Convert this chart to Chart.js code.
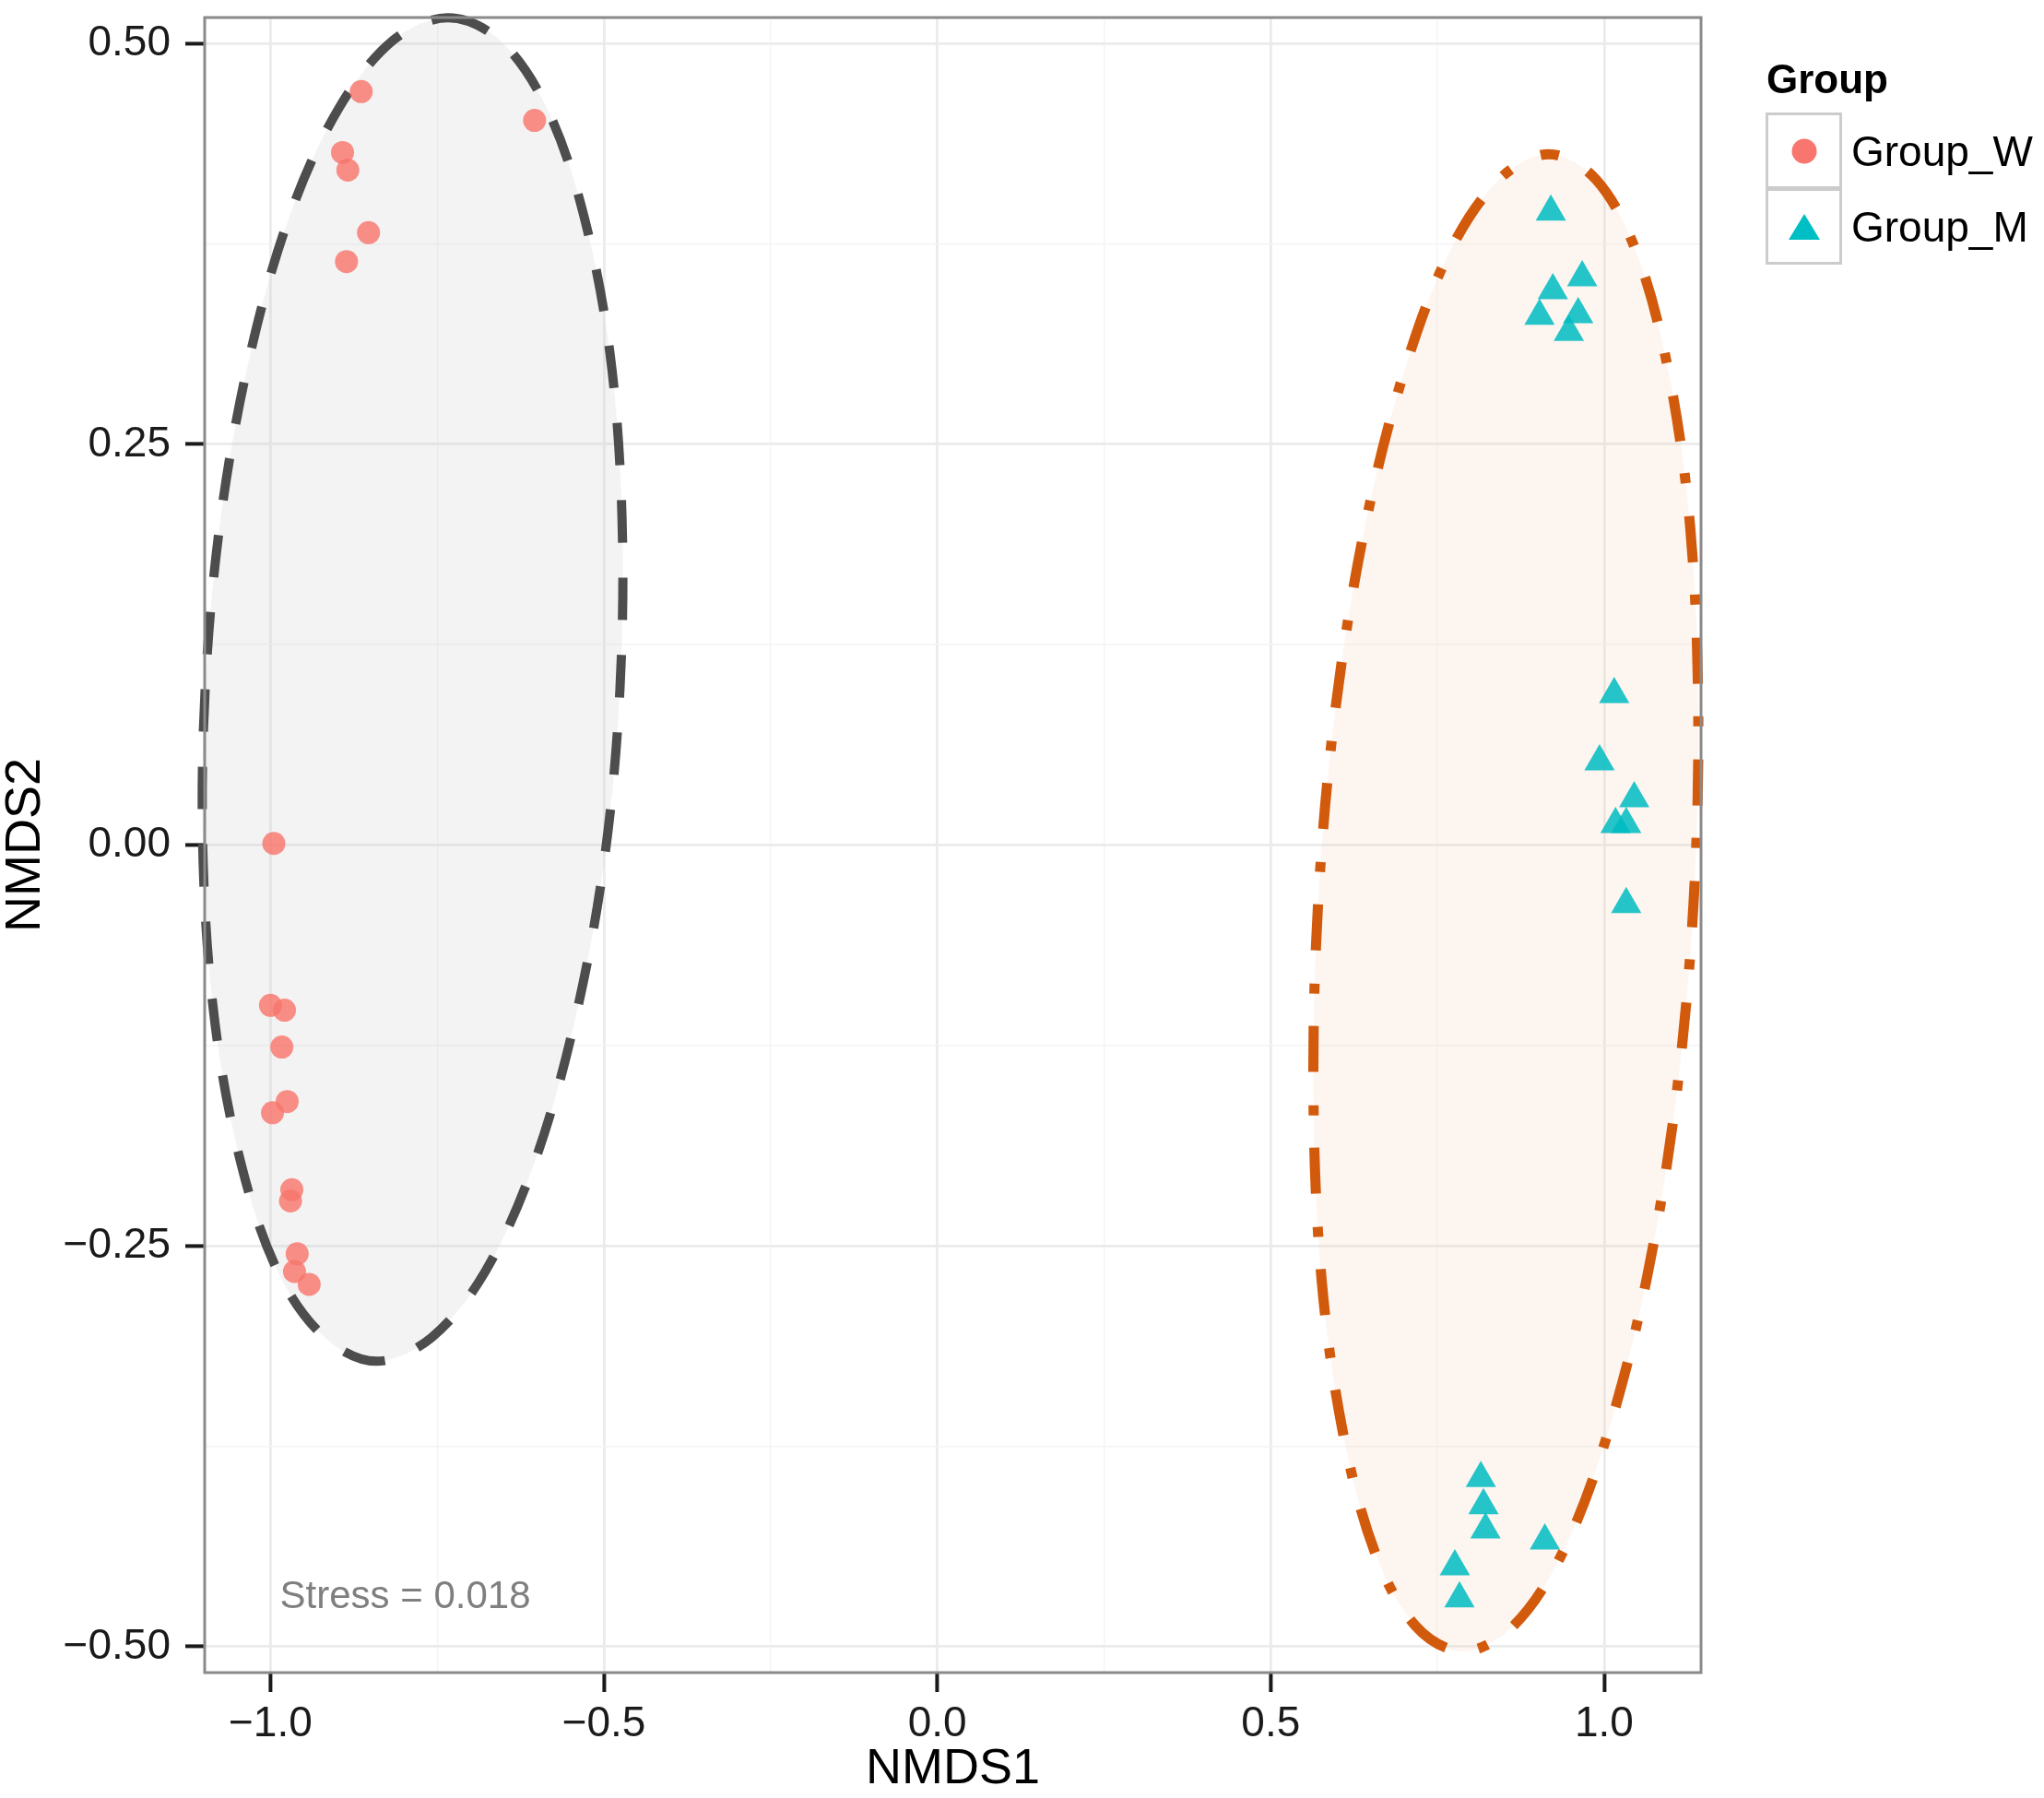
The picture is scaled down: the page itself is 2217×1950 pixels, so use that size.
<!DOCTYPE html>
<html>
<head>
<meta charset="utf-8">
<title>NMDS</title>
<script src="https://cdn.jsdelivr.net/npm/chart.js@4.4.1/dist/chart.umd.min.js"></script>
<style>
  html, body { margin: 0; padding: 0; background: #fff; }
  #wrap { position: relative; width: 2217px; height: 1950px; overflow: hidden; }
  #nmds { position: absolute; left: 0; top: 0; }
  .lg { position: absolute; font-family: "Liberation Sans", Arial, sans-serif; color: #000; line-height: 1; white-space: nowrap; }
  .lg-title { left: 1916px; top: 64px; font-size: 44px; font-weight: bold; }
  .lg-key { left: 1915px; width: 83px; height: 83px; box-sizing: border-box; border: 3px solid #cccccc;
            display: flex; align-items: center; justify-content: center; background: #fff; }
  .lg-text { left: 2008px; height: 83px; font-size: 46px; display: flex; align-items: center; }
</style>
</head>
<body>
<div id="wrap">
  <canvas id="nmds" width="2217" height="1950"></canvas>
  <div class="lg lg-title">Group</div>
  <div class="lg lg-key" style="top:122px"><svg width="30" height="30"><circle cx="15" cy="15" r="13.5" fill="#F8766D"/></svg></div>
  <div class="lg lg-key" style="top:204px"><svg width="36" height="32"><polygon points="18,2 35,30 1,30" fill="#00BFC4"/></svg></div>
  <div class="lg lg-text" style="top:122px">Group_W</div>
  <div class="lg lg-text" style="top:204px">Group_M</div>
</div>
<script>
// NMDS ordination, two groups with their ellipses

// Group_W samples
const wX = [-0.864, -0.604, -0.892, -0.884, -0.853, -0.886, -0.995, -1.000, -0.979, -0.983, -0.975, -0.997, -0.968, -0.970, -0.960, -0.964, -0.942];
const wY = [0.470, 0.452, 0.432, 0.421, 0.382, 0.364, 0.001, -0.100, -0.103, -0.126, -0.160, -0.167, -0.215, -0.222, -0.255, -0.266, -0.274];

// Group_M samples
const mX = [0.920, 0.967, 0.923, 0.903, 0.961, 0.947, 1.015, 0.993, 1.045, 1.017, 1.033, 1.033, 0.815, 0.819, 0.822, 0.911, 0.776, 0.783];
const mY = [0.395, 0.354, 0.346, 0.330, 0.331, 0.320, 0.094, 0.052, 0.029, 0.013, 0.013, -0.037, -0.395, -0.412, -0.427, -0.434, -0.450, -0.470];

// ellipse outlines
const wEllX = [-0.734, -0.656, -0.586, -0.531, -0.491, -0.473, -0.476, -0.500, -0.545, -0.605, -0.678, -0.758, -0.841, -0.919, -0.989, -1.044, -1.083, -1.101, -1.098, -1.074, -1.030, -0.970, -0.897, -0.816];
const wEllY = [0.516, 0.502, 0.460, 0.394, 0.307, 0.206, 0.097, -0.011, -0.112, -0.199, -0.266, -0.307, -0.322, -0.307, -0.266, -0.199, -0.112, -0.011, 0.097, 0.206, 0.307, 0.394, 0.460, 0.502];
const mEllX = [0.917, 0.988, 1.049, 1.097, 1.129, 1.141, 1.134, 1.108, 1.064, 1.006, 0.938, 0.864, 0.788, 0.717, 0.656, 0.608, 0.576, 0.564, 0.571, 0.597, 0.641, 0.699, 0.767, 0.842];
const mEllY = [0.431, 0.415, 0.369, 0.294, 0.198, 0.085, -0.036, -0.157, -0.270, -0.366, -0.441, -0.487, -0.503, -0.487, -0.441, -0.366, -0.270, -0.157, -0.036, 0.085, 0.198, 0.294, 0.369, 0.415];

// axes
const xMajor = [-1, -0.5, 0, 0.5, 1];
const xMinor = [-0.75, -0.25, 0.25, 0.75];
const xTickLabels = ['\u22121.0', '\u22120.5', '0.0', '0.5', '1.0'];
const yMajor = [-0.5, -0.25, 0, 0.25, 0.5];
const yMinor = [-0.375, -0.125, 0.125, 0.375];
const yTickLabels = ['\u22120.50', '\u22120.25', '0.00', '0.25', '0.50'];
const xRange = [-1.0987, 1.1452];
const yRange = [-0.5162, 0.5162];

const stressText = 'Stress = 0.018';
const stressPos = [-0.798, -0.469];

const FONT = '"Liberation Sans", Arial, sans-serif';

function toPoints(xs, ys) {
    return xs.map((x, i) => ({ x: x, y: ys[i] }));
}

function sorted(a, b) {
    return a.concat(b).sort((p, q) => p - q);
}

// close the ellipse outlines so the spline runs smoothly round
const loopPlugin = {
    id: 'loopEllipse',
    afterDatasetUpdate(chart, args) {
        const ds = chart.data.datasets[args.index];
        const line = args.meta.dataset;
        if (ds.isEllipse && line) {
            line._loop = true;
            line._fullLoop = true;
            delete line._segments;
            delete line._path;
            line._pointsUpdated = false;
        }
    }
};

// translucent fill inside each ellipse
const ellipseFill = {
    id: 'ellipseFill',
    beforeDatasetsDraw(chart) {
        const ctx = chart.ctx;
        chart.data.datasets.forEach((ds, i) => {
            if (!ds.isEllipse) return;
            const line = chart.getDatasetMeta(i).dataset;
            line.updateControlPoints(chart.chartArea, 'x');
            ctx.save();
            ctx.beginPath();
            line.path(ctx);
            ctx.closePath();
            ctx.fillStyle = ds.areaColor;
            ctx.fill();
            ctx.restore();
        });
    }
};

// panel border and the stress note
const panelDecor = {
    id: 'panelDecor',
    afterDatasetsDraw(chart) {
        const { ctx, chartArea: a, scales } = chart;
        ctx.save();
        ctx.font = '42px ' + FONT;
        ctx.fillStyle = '#7f7f7f';
        ctx.textAlign = 'center';
        ctx.textBaseline = 'middle';
        ctx.fillText(stressText, scales.x.getPixelForValue(stressPos[0]), scales.y.getPixelForValue(stressPos[1]));
        ctx.strokeStyle = '#8a8a8a';
        ctx.lineWidth = 3;
        ctx.strokeRect(a.left, a.top, a.right - a.left, a.bottom - a.top);
        ctx.restore();
    }
};

function gridColor(major) {
    return ctx => major.includes(ctx.tick.value) ? '#ebebeb' : '#f4f4f4';
}
function gridWidth(major) {
    return ctx => major.includes(ctx.tick.value) ? 2.8 : 1.4;
}
function tickColor(major) {
    return ctx => major.includes(ctx.tick.value) ? '#1a1a1a' : 'rgba(0,0,0,0)';
}

new Chart(document.getElementById('nmds'), {
    type: 'scatter',
    data: {
        datasets: [
            {
                label: 'Group_W',
                data: toPoints(wX, wY),
                pointStyle: 'circle',
                pointRadius: 12.5,
                pointBorderWidth: 0,
                backgroundColor: 'rgba(248,118,109,0.82)',
                order: 0
            },
            {
                label: 'Group_M',
                data: toPoints(mX, mY),
                pointStyle: 'triangle',
                pointRadius: 19,
                pointBorderWidth: 0,
                backgroundColor: 'rgba(0,188,194,0.85)',
                order: 0
            },
            {
                label: 'ellipse W',
                isEllipse: true,
                data: toPoints(wEllX, wEllY),
                showLine: true,
                pointRadius: 0,
                borderColor: '#4d4d4d',
                borderWidth: 10,
                borderDash: [46, 38],
                borderCapStyle: 'butt',
                tension: 0.34,
                spanGaps: true,
                fill: false,
                areaColor: 'rgba(200,200,200,0.22)',
                clip: false,
                order: 1
            },
            {
                label: 'ellipse M',
                isEllipse: true,
                data: toPoints(mEllX, mEllY),
                showLine: true,
                pointRadius: 0,
                borderColor: '#d25a0c',
                borderWidth: 11,
                borderDash: [11, 36, 50, 35],
                borderCapStyle: 'butt',
                tension: 0.34,
                spanGaps: true,
                fill: false,
                areaColor: 'rgba(245,200,170,0.18)',
                clip: false,
                order: 1
            }
        ]
    },
    options: {
        responsive: false,
        animation: false,
        devicePixelRatio: 1,
        layout: { padding: { top: 14, right: 372, left: 0, bottom: 0 } },
        plugins: {
            legend: { display: false },
            tooltip: { enabled: false }
        },
        scales: {
            x: {
                type: 'linear',
                min: xRange[0],
                max: xRange[1],
                afterFit(scale) {
                    scale.height = 136;
                    scale.paddingLeft = 0;
                    scale.paddingRight = 0;
                },
                afterBuildTicks(scale) { scale.ticks = sorted(xMajor, xMinor).map(v => ({ value: v })); },
                border: { display: false },
                grid: {
                    color: gridColor(xMajor),
                    lineWidth: gridWidth(xMajor),
                    tickColor: tickColor(xMajor),
                    tickLength: 21,
                    tickWidth: 4
                },
                ticks: {
                    autoSkip: false,
                    maxRotation: 0,
                    minRotation: 0,
                    padding: 8,
                    color: '#1a1a1a',
                    font: { family: FONT, size: 46 },
                    callback: v => {
                        const i = xMajor.indexOf(v);
                        return i >= 0 ? xTickLabels[i] : '';
                    }
                },
                title: {
                    display: true,
                    text: 'NMDS1',
                    color: '#000',
                    font: { family: FONT, size: 54, lineHeight: 1 },
                    padding: { top: 0, bottom: 4 }
                }
            },
            y: {
                type: 'linear',
                min: yRange[0],
                max: yRange[1],
                afterFit(scale) {
                    scale.width = 222;
                    scale.paddingTop = 0;
                    scale.paddingBottom = 0;
                },
                afterBuildTicks(scale) { scale.ticks = sorted(yMajor, yMinor).map(v => ({ value: v })); },
                border: { display: false },
                grid: {
                    color: gridColor(yMajor),
                    lineWidth: gridWidth(yMajor),
                    tickColor: tickColor(yMajor),
                    tickLength: 21,
                    tickWidth: 4
                },
                ticks: {
                    autoSkip: false,
                    padding: 16,
                    color: '#1a1a1a',
                    font: { family: FONT, size: 46 },
                    callback: v => {
                        const i = yMajor.indexOf(v);
                        return i >= 0 ? yTickLabels[i] : '';
                    }
                },
                title: {
                    display: true,
                    text: 'NMDS2',
                    color: '#000',
                    font: { family: FONT, size: 54, lineHeight: 1 },
                    padding: { top: 1, bottom: 0 }
                }
            }
        }
    },
    plugins: [loopPlugin, ellipseFill, panelDecor]
});
</script>
</body>
</html>
